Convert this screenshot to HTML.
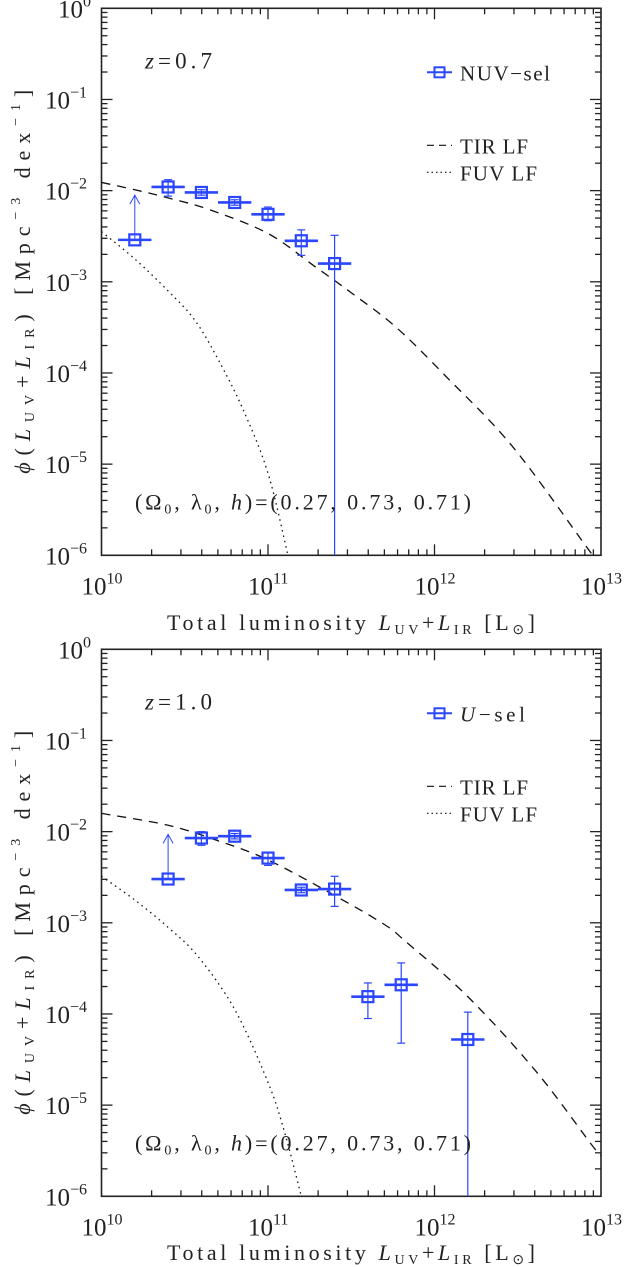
<!DOCTYPE html>
<html><head><meta charset="utf-8"><style>
html,body{margin:0;padding:0;background:#fff;}
svg{display:block;font-family:"Liberation Serif",serif;}
</style></head><body>
<svg id="fig" width="625" height="1267" viewBox="0 0 625 1267" xmlns="http://www.w3.org/2000/svg"></svg>
<script>
// ---- data (log10 values) ----
const p1LogL   = [10.2, 10.4, 10.6, 10.8, 11.0, 11.2, 11.4];
const p1LogPhi = [-2.54, -1.96, -2.02, -2.13, -2.26, -2.55, -2.80];
const p1ErrHi  = [-2.05, -1.88, -1.99, -2.10, -2.18, -2.43, -2.49];
const p1ErrLo  = [-2.54, -2.06, -2.05, -2.16, -2.33, -2.71, -9];
const p1Limit  = [true, false, false, false, false, false, false];
const p1TirX = [10.0,10.2,10.4,10.65,11.0,11.28,11.5,11.77,12.07,12.47,12.91,12.95];
const p1TirY = [-1.91,-1.99,-2.08,-2.21,-2.47,-2.83,-3.12,-3.50,-4.04,-4.81,-5.90,-6.0];
const p1FuvX = [10.0,10.2,10.4,10.56,10.7,10.85,11.0,11.12];
const p1FuvY = [-2.45,-2.75,-3.1,-3.42,-3.85,-4.4,-5.1,-6.0];

const p2LogL   = [10.4, 10.6, 10.8, 11.0, 11.2, 11.4, 11.6, 11.8, 12.2];
const p2LogPhi = [-2.52, -2.07, -2.05, -2.29, -2.64, -2.63, -3.81, -3.68, -4.28];
const p2ErrHi  = [-2.03, -2.00, -2.02, -2.23, -2.61, -2.49, -3.66, -3.44, -3.98];
const p2ErrLo  = [-2.52, -2.15, -2.08, -2.37, -2.67, -2.82, -4.05, -4.32, -9];
const p2Limit  = [true, false, false, false, false, false, false, false, false];
const p2TirX = [10.0,10.4,10.7,11.0,11.4,11.7,11.83,12.2,12.61,12.95,13.0];
const p2TirY = [-1.80,-1.93,-2.10,-2.31,-2.70,-3.02,-3.21,-3.81,-4.63,-5.45,-5.55];
const p2FuvX = [10.0,10.2,10.4,10.58,10.8,11.0,11.1,11.2];
const p2FuvY = [-2.49,-2.75,-3.05,-3.37,-3.95,-4.75,-5.3,-6.0];

const xTickExp = [10, 11, 12, 13];
const yTickExp = [0, -1, -2, -3, -4, -5, -6];

const NS = "http://www.w3.org/2000/svg";
const svg = document.getElementById("fig");
const BLUE = "#2a46ff";
function mk(tag, attrs, parent) {
  const e = document.createElementNS(NS, tag);
  for (const k in attrs) e.setAttribute(k, attrs[k]);
  (parent || svg).appendChild(e);
  return e;
}
function smoothPath(pts) {
  let d = "M" + pts[0][0] + "," + pts[0][1];
  for (let i = 0; i < pts.length - 1; i++) {
    const p0 = pts[Math.max(0, i - 1)], p1 = pts[i], p2 = pts[i + 1], p3 = pts[Math.min(pts.length - 1, i + 2)];
    const c1x = p1[0] + (p2[0] - p0[0]) / 6, c1y = p1[1] + (p2[1] - p0[1]) / 6;
    const c2x = p2[0] - (p3[0] - p1[0]) / 6, c2y = p2[1] - (p3[1] - p1[1]) / 6;
    d += " C" + c1x + "," + c1y + " " + c2x + "," + c2y + " " + p2[0] + "," + p2[1];
  }
  return d;
}

function panel(cfg) {
  const L = 101.5, R = 601, T = cfg.top, B = cfg.top + 547;
  const xs = v => L + (v - 10) / 3 * (R - L);
  const ys = v => T + (-v) / 6 * (B - T);
  const g = mk("g", {});
  
  

  const clipId = cfg.name + "-clip";
  const cp = mk("clipPath", {id: clipId}, g);
  mk("rect", {x: L, y: T, width: R - L, height: B - T}, cp);

  const frame = mk("rect", {x: L, y: T, width: R - L, height: B - T, fill: "none", stroke: "#222", "stroke-width": 1.6}, g);
  
  

  for (let d = 10; d < 13; d++) {
    for (let m = 1; m <= 9; m++) {
      if (m === 1 && d === 10) continue;
      const x = xs(d + Math.log10(m));
      const len = m === 1 ? 11 : 6;
      mk("line", {x1: x, x2: x, y1: B, y2: B - len, stroke: "#222", "stroke-width": 1.3}, g);
      mk("line", {x1: x, x2: x, y1: T, y2: T + len, stroke: "#222", "stroke-width": 1.3}, g);
    }
  }
  for (let d = -6; d < 0; d++) {
    for (let m = 1; m <= 9; m++) {
      if (m === 1 && d === -6) continue;
      const y = ys(d + Math.log10(m));
      const len = m === 1 ? 11 : 6;
      mk("line", {x1: L, x2: L + len, y1: y, y2: y, stroke: "#222", "stroke-width": 1.3}, g);
      mk("line", {x1: R, x2: R - len, y1: y, y2: y, stroke: "#222", "stroke-width": 1.3}, g);
    }
  }
  xTickExp.forEach(e => {
    const t = mk("text", {x: xs(e) - 20, y: B + 39, "font-size": 25, fill: "#222"}, g);
    
    
    t.innerHTML = '10<tspan dy="-11" font-size="16">' + e + '</tspan>';
  });
  yTickExp.forEach(e => {
    const t = mk("text", {x: e === 0 ? 58 : 45, y: ys(e) + 9, "font-size": 25, fill: "#222"}, g);
    
    
    t.innerHTML = '10<tspan dy="-11" font-size="16">' + (e === 0 ? '0' : '\u2212' + (-e)) + '</tspan>';
  });

  const xt = mk("text", {x: 167, y: cfg.titleY, "font-size": 22, fill: "#222", textLength: 368, lengthAdjust: "spacing"}, g);
  
  
  xt.innerHTML = 'Total luminosity <tspan font-style="italic">L</tspan><tspan font-size="14" dy="4">UV</tspan><tspan dy="-4">+</tspan><tspan font-style="italic">L</tspan><tspan font-size="14" dy="4">IR</tspan><tspan dy="-4"> [L</tspan><tspan font-size="14" dy="4">\u2299</tspan><tspan dy="-4">]</tspan>';
  const cy = (T + B) / 2;
  const yt = mk("text", {x: -192, y: 0, "font-size": 22, fill: "#222", textLength: 384, lengthAdjust: "spacing", transform: "translate(30," + cy + ") rotate(-90)"}, g);
  
  
  yt.innerHTML = '<tspan font-style="italic">\u03d5</tspan>(<tspan font-style="italic">L</tspan><tspan font-size="14" dy="4">UV</tspan><tspan dy="-4">+</tspan><tspan font-style="italic">L</tspan><tspan font-size="14" dy="4">IR</tspan><tspan dy="-4">)  [Mpc</tspan><tspan font-size="14" dy="-10">\u22123</tspan><tspan dy="10"> dex</tspan><tspan font-size="14" dy="-10">\u22121</tspan><tspan dy="10">]</tspan>';

  const cg = mk("g", {"clip-path": "url(#" + clipId + ")"}, g);
  const tir = mk("path", {d: smoothPath(cfg.tirX.map((v, i) => [xs(v), ys(cfg.tirY[i])])), fill: "none", stroke: "#111", "stroke-width": 1.3, "stroke-dasharray": "9,7"}, cg);
  
  
  const fuv = mk("path", {d: smoothPath(cfg.fuvX.map((v, i) => [xs(v), ys(cfg.fuvY[i])])), fill: "none", stroke: "#111", "stroke-width": 1.3, "stroke-dasharray": "1.5,4"}, cg);
  
  

  cfg.lx.forEach((lv, i) => {
    const pg = mk("g", {}, cg);
    
    
    const x = xs(lv), y = ys(cfg.ly[i]);
    mk("line", {x1: xs(lv - 0.1), x2: xs(lv + 0.1), y1: y, y2: y, stroke: BLUE, "stroke-width": 2.6}, pg);
    if (cfg.lim[i]) {
      const ya = ys(cfg.hi[i]);
      mk("line", {x1: x, x2: x, y1: y, y2: ya, stroke: BLUE, "stroke-width": 1}, pg);
      mk("polyline", {points: (x - 5) + "," + (ya + 9) + " " + x + "," + ya + " " + (x + 5) + "," + (ya + 9), fill: "none", stroke: BLUE, "stroke-width": 1}, pg);
    } else {
      const yh = ys(cfg.hi[i]), yl = ys(Math.max(cfg.lo[i], -6.2));
      mk("line", {x1: x, x2: x, y1: yh, y2: yl, stroke: BLUE, "stroke-width": 1.2}, pg);
      mk("line", {x1: x - 4, x2: x + 4, y1: yh, y2: yh, stroke: BLUE, "stroke-width": 1.2}, pg);
      if (cfg.lo[i] > -6) mk("line", {x1: x - 4, x2: x + 4, y1: yl, y2: yl, stroke: BLUE, "stroke-width": 1.2}, pg);
      mk("line", {x1: x - 5, x2: x + 5, y1: y, y2: y, stroke: BLUE, "stroke-width": 1}, pg);
    }
    mk("rect", {x: x - 5.5, y: y - 5.5, width: 11, height: 11, fill: "none", stroke: BLUE, "stroke-width": 2.2}, pg);
  });

  const zt = mk("text", {x: 145, y: T + 60, "font-size": 23, fill: "#222", textLength: 67, lengthAdjust: "spacing"}, g);
  
  
  zt.innerHTML = '<tspan font-style="italic">z</tspan>=' + cfg.z;
  const cos = mk("text", {x: 135, y: B - 46, "font-size": 22, fill: "#222", textLength: 336, lengthAdjust: "spacing"}, g);
  
  
  cos.innerHTML = '(\u03a9<tspan font-size="14" dy="4">0</tspan><tspan dy="-4">,  \u03bb</tspan><tspan font-size="14" dy="4">0</tspan><tspan dy="-4">,  </tspan><tspan font-style="italic">h</tspan>)=(0.27,  0.73,  0.71)';

  const lg = mk("g", {}, g);
  
  
  const ly0 = T + 64;
  mk("line", {x1: 427, x2: 452, y1: ly0, y2: ly0, stroke: BLUE, "stroke-width": 2}, lg);
  mk("rect", {x: 434.5, y: ly0 - 5, width: 10, height: 10, fill: "none", stroke: BLUE, "stroke-width": 2}, lg);
  const lt1 = mk("text", {x: 460, y: ly0 + 8, "font-size": 21, fill: "#222", textLength: cfg.selW, lengthAdjust: "spacing"}, lg);
  
  
  lt1.innerHTML = cfg.sel;
  mk("line", {x1: 427, x2: 452, y1: T + 137, y2: T + 137, stroke: "#111", "stroke-width": 1.2, "stroke-dasharray": "7,5"}, lg);
  const lt2 = mk("text", {x: 460, y: T + 145, "font-size": 21, fill: "#222", textLength: 68, lengthAdjust: "spacing"}, lg);
  
  
  lt2.textContent = "TIR  LF";
  mk("line", {x1: 427, x2: 452, y1: T + 164, y2: T + 164, stroke: "#111", "stroke-width": 1.2, "stroke-dasharray": "1.5,3"}, lg);
  const lt3 = mk("text", {x: 460, y: T + 172, "font-size": 21, fill: "#222", textLength: 77, lengthAdjust: "spacing"}, lg);
  
  
  lt3.textContent = "FUV  LF";
}

panel({name: "panel-z07", top: 8.3, z: "0.7", sel: "NUV\u2212sel", selW: 90, titleY: 630,
  lx: p1LogL, ly: p1LogPhi, hi: p1ErrHi, lo: p1ErrLo, lim: p1Limit,
  tirX: p1TirX, tirY: p1TirY, fuvX: p1FuvX, fuvY: p1FuvY});
panel({name: "panel-z10", top: 649.3, z: "1.0", sel: '<tspan font-style="italic">U</tspan>\u2212sel', selW: 65, titleY: 1260,
  lx: p2LogL, ly: p2LogPhi, hi: p2ErrHi, lo: p2ErrLo, lim: p2Limit,
  tirX: p2TirX, tirY: p2TirY, fuvX: p2FuvX, fuvY: p2FuvY});
</script>
</body></html>
